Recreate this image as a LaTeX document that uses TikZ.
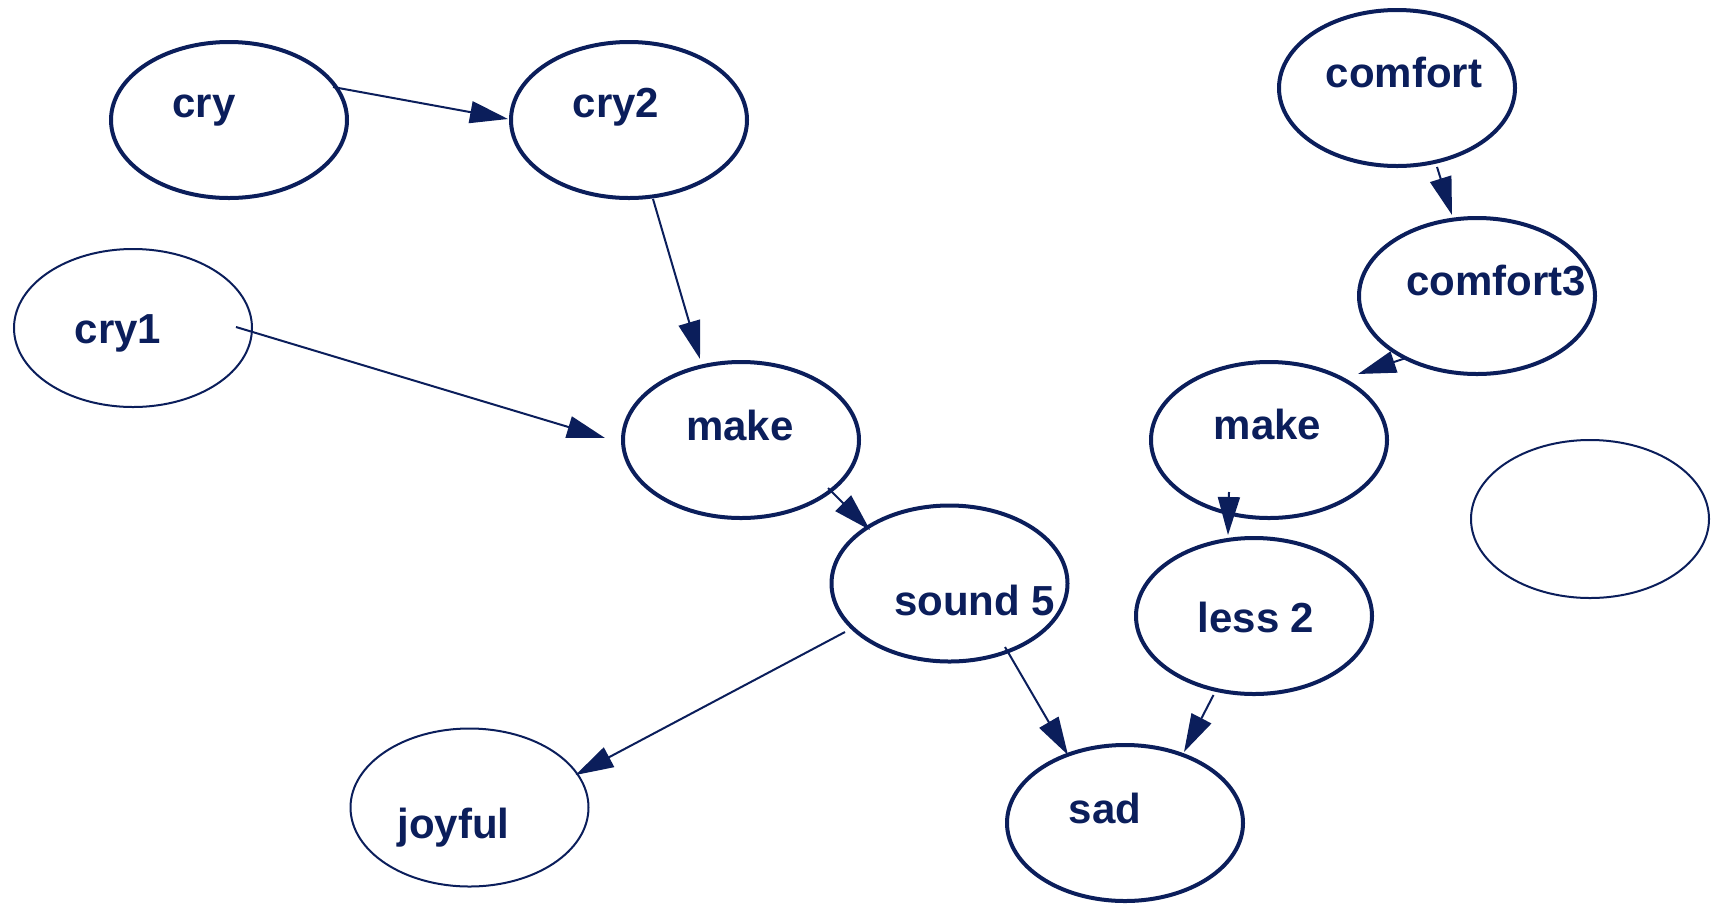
\documentclass[tikz,border=0pt]{standalone}
\usepackage{fontspec}
\setmainfont{Liberation Sans}
\usetikzlibrary{shapes.geometric,arrows.meta,calc}
\definecolor{navy}{RGB}{11,30,91}
\begin{document}
\begin{tikzpicture}[x=1pt,y=-1pt,
 bub/.style={ellipse,draw=navy,line width=4pt,minimum width=236pt,minimum height=156pt,inner sep=0pt,outer sep=0pt},
 bubthin/.style={ellipse,draw=navy,line width=2pt,minimum width=238pt,minimum height=158pt,inner sep=0pt,outer sep=0pt},
 lab/.style={anchor=center,text height=0pt,text depth=0pt,text=navy,font=\fontsize{42}{48}\selectfont\bfseries,inner sep=0pt},
 edge/.style={draw=navy,line width=2pt,-{Triangle[length=38pt,width=22pt]}}]
\useasboundingbox (0,0) rectangle (1718,903);
% nodes
\node[bub,label={[lab,xshift=-25pt,yshift=3pt]center:cry}] (cry) at (229,120) {};
\node[bub,label={[lab,xshift=-13pt,yshift=3pt]center:cry2}] (cry2) at (629,120) {};
\node[bubthin,label={[lab,xshift=-15pt,yshift=-15pt]center:cry1}] (cry1) at (133,328) {};
\node[bub,label={[lab,xshift=-1pt,yshift=0pt]center:make}] (make1) at (741,440) {};
\node[bub,label={[lab,xshift=25pt,yshift=-32pt]center:sound 5}] (sound) at (949.5,583.5) {};
\node[bubthin,label={[lab,xshift=-16pt,yshift=-31pt]center:joyful}] (joyful) at (469.5,807.5) {};
\node[bub,label={[lab,xshift=-20pt,yshift=0pt]center:sad}] (sad) at (1125,823) {};
\node[bub,label={[lab,xshift=7pt,yshift=1pt]center:comfort}] (comfort) at (1397,88) {};
\node[bub,label={[lab,xshift=19pt,yshift=1pt]center:comfort3}] (comfort3) at (1477,296) {};
\node[bub,label={[lab,xshift=-1.5pt,yshift=1pt]center:make}] (make2) at (1269,440) {};
\node[bub,label={[lab,xshift=2pt,yshift=-16pt]center:less 2}] (less) at (1254,616) {};
\node[bubthin] (empty) at (1590,519) {};
% edges
\draw[edge] ($(cry)+(104,-33)$) -- ($(cry2)+(-121,-1)$);
\draw[edge] ($(cry2)+(24,79)$) -- ($(make1)+(-41,-81)$);
\draw[edge] ($(cry1)+(103,-1)$) -- ($(make1)+(-136,-2)$);
\draw[edge] ($(make1)+(87,48)$) -- ($(sound)+(-79.5,-53.5)$);
\draw[edge] ($(sound)+(-104.5,48.5)$) -- ($(joyful)+(106,-32.5)$);
\draw[edge] ($(sound)+(55.5,63.5)$) -- ($(sad)+(-57,-68)$);
\draw[edge] ($(less)+(-40.5,79)$) -- ($(sad)+(59,-71)$);
\draw[edge] ($(comfort)+(40,79)$) -- ($(comfort3)+(-25,-81)$);
\draw[edge] ($(comfort3)+(-71,62)$) -- ($(make2)+(89,-66)$);
\draw[edge] ($(make2)+(-40,52)$) -- ($(less)+(-26,-81)$);
\end{tikzpicture}
\end{document}
